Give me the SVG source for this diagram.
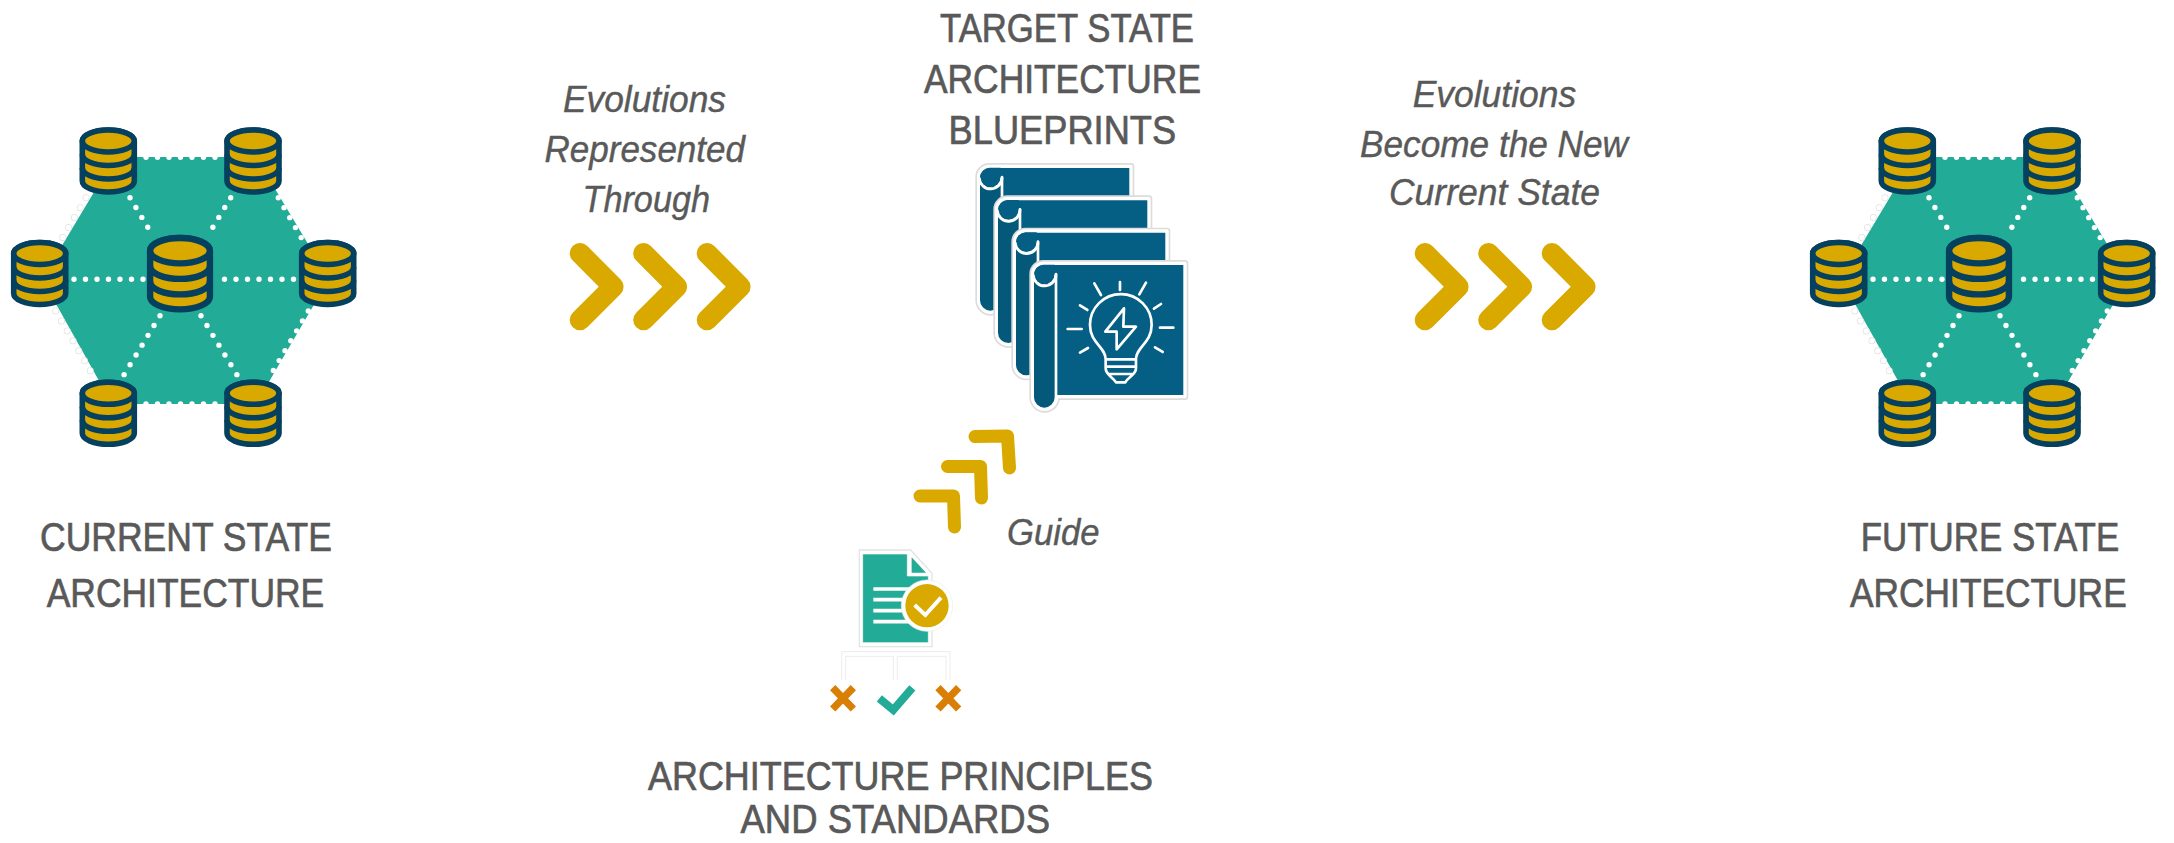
<svg xmlns="http://www.w3.org/2000/svg" xmlns:xlink="http://www.w3.org/1999/xlink" width="2174" height="843" viewBox="0 0 2174 843">
<style>
text{font-family:"Liberation Sans",Arial,sans-serif;fill:#595959;stroke:#595959}
.t{font-size:41px;stroke-width:.7px}
.i{font-size:36px;font-style:italic;stroke-width:.4px}
.hex{fill:#22ab96}
.dot{fill:none;stroke:#fff;stroke-width:5.4;stroke-linecap:round;stroke-dasharray:0 11.5}
.ring{fill:none;stroke:#e2e2e2;stroke-width:7;stroke-linecap:round;stroke-dasharray:0 11.5}
.chev{fill:none;stroke:#d9a900;stroke-width:20.6;stroke-linecap:round;stroke-linejoin:round}
.up{fill:none;stroke:#d9a900;stroke-width:13;stroke-linecap:round;stroke-linejoin:round}
.dbs{fill:#d9a900;stroke:#05405f;stroke-width:5.6}
.dbl{fill:none;stroke:#05405f;stroke-width:5.6}
.pg0{fill:#fff;stroke:#dcdcdc;stroke-width:20;stroke-linejoin:round}
.pg1{fill:#055f85;stroke:#fff;stroke-width:10;stroke-linejoin:round}
.roll{fill:#04597a;stroke:#fff;stroke-width:8}
.w{fill:none;stroke:#fff;stroke-width:8;stroke-linecap:round;stroke-linejoin:round}
.tree{fill:none;stroke:#ececec;stroke-width:3}
</style>
<defs>
<g id="db">
<path class="dbs" d="M-26 -20V20A26 11 0 0 0 26 20V-20A26 11 0 0 0 -26 -20Z"/>
<ellipse class="dbs" cx="0" cy="-20" rx="26" ry="11"/>
<path class="dbl" d="M-26 -6.5A26 11 0 0 0 26 -6.5M-26 7A26 11 0 0 0 26 7"/>
</g>
<g id="net-links">
<path class="ring" d="M86 197.7L61.4 239.8M55.7 311L92 373.8"/>
<path class="dot" d="M86 197.7L61.4 239.8M55.7 311L92 373.8"/>
<path class="dot" d="M146 157.3H219M146 404H219M74 279.3H144M224.5 279.3H294"/>
<path class="dot" d="M130 197.7L153.6 237M230.7 197.7L207 237M160 315.7L124 374.8M201 315.7L237 374.8"/>
<path class="dot" d="M278.3 197.7L302 239M308.3 311L271.4 373.8"/>
</g>
<g id="page">
<path class="pg0" d="M250 340H675V740H290V742A36 36 0 0 1 218 742V372A32 32 0 0 1 250 340Z"/>
<path class="pg1" d="M250 340H675V740H290V742A36 36 0 0 1 218 742V372A32 32 0 0 1 250 340Z"/>
<path class="roll" d="M218 375V742A35 35 0 0 0 288 742V372A36 36 0 0 1 218 375Z"/>
<path class="pg1" style="stroke:none" d="M222 372A31 31 0 0 1 250 344H284V372A31 31 0 0 1 222 372Z"/>
<path class="w" d="M220 376A34 34 0 0 0 288 372"/>
</g>
</defs>

<g id="current-state-network">
<polygon class="hex" points="42,279 115,157 256,157 329,279 256,404 112,404"/>
</g>
<g id="future-state-network" transform="translate(1799 0)">
<polygon class="hex" points="42,279 115,157 256,157 329,279 256,404 112,404"/>
</g>

<g id="connectors">
<use href="#net-links"/>
<use href="#net-links" transform="translate(1799 0)"/>
<g id="chevrons-left">
<path class="chev" d="M580 253.3L613.3 286.7L580 320"/>
<path class="chev" d="M643.5 253.3L676.8 286.7L643.5 320"/>
<path class="chev" d="M707 253.3L740.3 286.7L707 320"/>
</g>
<g id="chevrons-right">
<path class="chev" d="M1425 253.3L1458.3 286.7L1425 320"/>
<path class="chev" d="M1488.5 253.3L1521.8 286.7L1488.5 320"/>
<path class="chev" d="M1552 253.3L1585.3 286.7L1552 320"/>
</g>
<g id="chevrons-up">
<path class="up" d="M920 496H953.5L954.5 527"/>
<path class="up" d="M947.5 466.5H980.5L981.5 498"/>
<path class="up" d="M975 436.5L1007.5 436L1009.5 468"/>
</g>
</g>

<g id="current-dbs">
<use href="#db" transform="translate(108.3 161)"/>
<use href="#db" transform="translate(253 161)"/>
<use href="#db" transform="translate(39.7 273.5)"/>
<use href="#db" transform="translate(327.7 273.5)"/>
<use href="#db" transform="translate(108.3 413.3)"/>
<use href="#db" transform="translate(253 413.3)"/>
<use href="#db" transform="translate(180 273.7) scale(1.15)"/>
</g>
<g id="future-dbs" transform="translate(1799 0)">
<use href="#db" transform="translate(108.3 161)"/>
<use href="#db" transform="translate(253 161)"/>
<use href="#db" transform="translate(39.7 273.5)"/>
<use href="#db" transform="translate(327.7 273.5)"/>
<use href="#db" transform="translate(108.3 413.3)"/>
<use href="#db" transform="translate(253 413.3)"/>
<use href="#db" transform="translate(180 273.7) scale(1.15)"/>
</g>

<g id="blueprints" transform="translate(960 150) scale(.3333)">
<use href="#page" transform="translate(-162 -291)"/>
<use href="#page" transform="translate(-108 -194)"/>
<use href="#page" transform="translate(-54 -97)"/>
<use href="#page"/>
<path class="w" d="M403 400L423 435M480 396V420M558 398L538 433M360 466L382 480M603 462L582 476M323 537H365M600 533H640M360 608L384 594M608 606L585 592"/>
<path class="w" d="M437 628C437 590 390 580 390 525A92 92 0 0 1 575 525C575 580 528 590 528 628V655C528 675 505 680 496 697H468C458 680 437 675 437 655ZM437 628H528M437 650H528M448 672H516"/>
<path class="w" d="M492 475L436 545H470V598L528 530H490Z"/>
</g>

<g id="principles" transform="translate(800 530) scale(.3333)">
<path fill="#fff" stroke="#e4e4e4" stroke-width="4" d="M178 60H332L396 130V350H178Z"/>
<path fill="#22ab96" stroke="#fff" stroke-width="2" d="M188 72H322V138H385V338H188Z"/>
<path fill="#22ab96" d="M335 82L378 128H335Z"/>
<path fill="none" stroke="#fff" stroke-width="11" d="M220 177H330M220 209H330M220 242H330M220 275H330"/>
<circle cx="381" cy="227" r="77" fill="#fff" stroke="#ececec" stroke-width="2"/>
<circle cx="381" cy="227" r="65" fill="#d9a900"/>
<path fill="none" stroke="#fff" stroke-width="12" d="M344 225L376 255L423 203"/>
<path class="tree" d="M125 450V365H450V450M137 450V379H280V450M292 450V379H438V450"/>
<path fill="none" stroke="#d97f05" stroke-width="22" d="M98 473L160 537M160 473L98 537M414 473L476 537M476 473L414 537"/>
<path fill="none" stroke="#22ab96" stroke-width="24" d="M238 505L280 540L337 474"/>
</g>

<g id="labels">
<text class="t" x="40" y="550.7" textLength="292" lengthAdjust="spacingAndGlyphs">CURRENT STATE</text>
<text class="t" x="46.7" y="606.7" textLength="277.5" lengthAdjust="spacingAndGlyphs">ARCHITECTURE</text>
<text class="t" x="1860.7" y="550.7" textLength="258.5" lengthAdjust="spacingAndGlyphs">FUTURE STATE</text>
<text class="t" x="1850" y="606.7" textLength="276.7" lengthAdjust="spacingAndGlyphs">ARCHITECTURE</text>
<text class="t" x="940" y="41.7" textLength="254" lengthAdjust="spacingAndGlyphs">TARGET STATE</text>
<text class="t" x="924" y="93.3" textLength="277" lengthAdjust="spacingAndGlyphs">ARCHITECTURE</text>
<text class="t" x="948.6" y="144" textLength="227.5" lengthAdjust="spacingAndGlyphs">BLUEPRINTS</text>
<text class="t" x="648" y="790" textLength="505" lengthAdjust="spacingAndGlyphs">ARCHITECTURE PRINCIPLES</text>
<text class="t" x="740.5" y="833" font-size="39" textLength="309.5" lengthAdjust="spacingAndGlyphs">AND STANDARDS</text>
<text class="i" x="563" y="112" textLength="163" lengthAdjust="spacingAndGlyphs">Evolutions</text>
<text class="i" x="544.5" y="162" textLength="200.5" lengthAdjust="spacingAndGlyphs">Represented</text>
<text class="i" x="582.5" y="212" textLength="127.5" lengthAdjust="spacingAndGlyphs">Through</text>
<text class="i" x="1412.7" y="106.7" textLength="163.5" lengthAdjust="spacingAndGlyphs">Evolutions</text>
<text class="i" x="1360" y="156.7" textLength="268" lengthAdjust="spacingAndGlyphs">Become the New</text>
<text class="i" x="1389" y="205" textLength="211" lengthAdjust="spacingAndGlyphs">Current State</text>
<text class="i" x="1007" y="545" textLength="92.5" lengthAdjust="spacingAndGlyphs">Guide</text>
</g>
</svg>
